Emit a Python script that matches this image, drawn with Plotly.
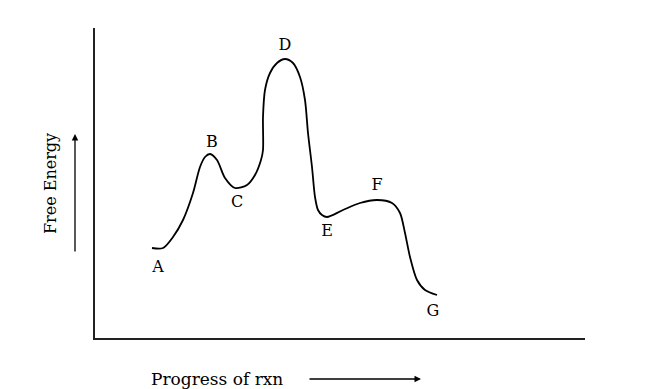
import plotly.graph_objects as go

# Curve (x = progress, y = free energy, arbitrary units)
progress = [57, 68, 78, 88, 98, 105, 110, 115, 122, 130, 140, 152, 160, 166, 168,
            168, 170, 175, 182, 190, 198, 205, 210, 213, 217, 220, 223, 227, 232,
            248, 265, 282, 297, 305, 310, 315, 322, 330, 342]
energy = [90, 90, 101, 118, 145, 171, 181, 184, 178, 160, 150, 153, 163, 178, 188,
          221, 248, 265, 275, 279, 275, 261, 238, 205, 171, 141, 128, 123, 121,
          128, 135, 138, 135, 125, 105, 81, 58, 48, 43]

# Stationary-point labels
point_labels = ["A", "B", "C", "D", "E", "F", "G"]
label_x = [63, 117, 142, 190, 232, 282, 338]
label_y = [70, 195, 135, 292, 106, 152, 26]

FONT = "DejaVu Serif"

fig = go.Figure()
fig.add_trace(go.Scatter(
    x=progress, y=energy, mode="lines",
    line=dict(color="black", width=1.8, shape="spline", smoothing=0.8),
    hoverinfo="skip", showlegend=False))
fig.add_trace(go.Scatter(
    x=label_x, y=label_y, mode="text", text=point_labels,
    textfont=dict(family=FONT, size=16, color="black"),
    hoverinfo="skip", showlegend=False))

fig.update_xaxes(range=[0, 490], showline=True, linecolor="#222", linewidth=1.5,
                 showgrid=False, zeroline=False, showticklabels=False, ticks="",
                 fixedrange=True)
fig.update_yaxes(range=[0, 310], showline=True, linecolor="#222", linewidth=1.5,
                 showgrid=False, zeroline=False, showticklabels=False, ticks="",
                 fixedrange=True)

# page body adds an 8px margin, so the figure is offset by 8px
OFF = 8
W, H = 650 - OFF, 389 - OFF
L, T = 95 - OFF, 28 - OFF
R, B = W - L - 490, H - T - 310
pw, ph = 490, 310

def px(x):
    return (x - OFF - L) / pw

def py(y):
    return (H - B - (y - OFF)) / ph

annotations = [
    dict(text="Free Energy", x=px(51), y=py(184), xref="paper", yref="paper",
         showarrow=False, textangle=-90, font=dict(family=FONT, size=16, color="black"),
         xanchor="center", yanchor="middle"),
    dict(text="", x=px(75), y=py(134), xref="paper", yref="paper",
         showarrow=True, ax=0, ay=119, arrowhead=2, arrowsize=1, arrowwidth=1.3,
         arrowcolor="black"),
    dict(text="Progress of rxn", x=px(217), y=py(379), xref="paper", yref="paper",
         showarrow=False, font=dict(family=FONT, size=17, color="black"),
         xanchor="center", yanchor="middle"),
    dict(text="", x=px(421), y=py(379), xref="paper", yref="paper",
         showarrow=True, ax=-113, ay=0, arrowhead=2, arrowsize=1, arrowwidth=1.3,
         arrowcolor="black"),
]

fig.update_layout(
    width=W, height=H,
    margin=dict(l=L, r=R, t=T, b=B),
    paper_bgcolor="white", plot_bgcolor="white",
    annotations=annotations,
)

fig.write_html("out.html")
